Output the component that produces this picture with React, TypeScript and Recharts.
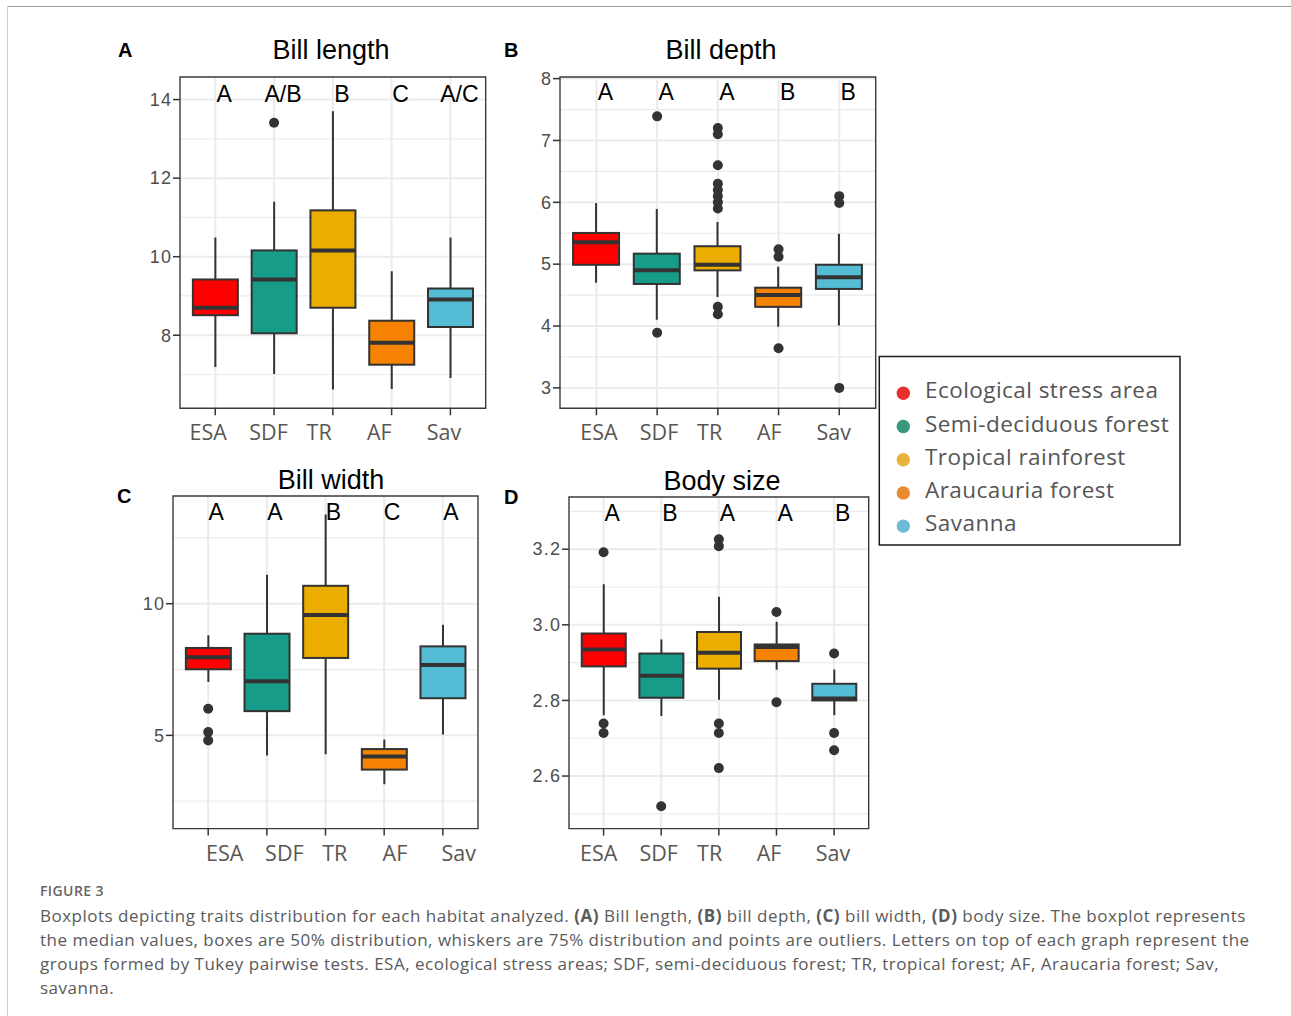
import React from 'react';
import { ComposedChart, Bar, Scatter, XAxis, YAxis, CartesianGrid, ReferenceArea } from 'recharts';

// ---------- data ----------
const categories = ['ESA', 'SDF', 'TR', 'AF', 'Sav'];
const habitats = ['Ecological stress area', 'Semi-deciduous forest', 'Tropical rainforest', 'Araucauria forest', 'Savanna'];
const boxFills = ['#FF0000', '#179C89', '#EBAD00', '#F58200', '#55BCD5'];
const legendDots = ['#E8312A', '#3A977F', '#E9B23B', '#E98A2E', '#6BBBD5'];

// [lower whisker, Q1, median, Q3, upper whisker]
const billLengthStats = [
  [7.19, 8.51, 8.7, 9.42, 10.49],
  [7.01, 8.05, 9.42, 10.16, 11.4],
  [6.62, 8.7, 10.16, 11.18, 13.7],
  [6.63, 7.25, 7.81, 8.37, 9.63],
  [6.91, 8.21, 8.91, 9.19, 10.49],
];
const billLengthOutliers = [[], [13.41], [], [], []];
const billLengthLetters = ['A', 'A/B', 'B', 'C', 'A/C'];

const billDepthStats = [
  [4.7, 4.99, 5.355, 5.505, 5.99],
  [4.1, 4.68, 4.9, 5.17, 5.89],
  [4.47, 4.9, 4.99, 5.29, 5.68],
  [3.99, 4.31, 4.5, 4.62, 4.96],
  [4.01, 4.6, 4.79, 4.99, 5.49],
];
const billDepthOutliers = [
  [],
  [7.39, 3.89],
  [7.2, 7.1, 6.6, 6.3, 6.2, 6.1, 6.0, 5.9, 4.31, 4.19],
  [5.24, 5.12, 3.64],
  [6.1, 5.99, 3.0],
];
const billDepthLetters = ['A', 'A', 'A', 'B', 'B'];

const billWidthStats = [
  [7.03, 7.51, 7.97, 8.32, 8.8],
  [4.24, 5.92, 7.06, 8.86, 11.1],
  [4.28, 7.94, 9.57, 10.68, 13.39],
  [3.14, 3.7, 4.2, 4.48, 4.84],
  [5.03, 6.41, 7.67, 8.38, 9.2],
];
const billWidthOutliers = [[6.01, 5.13, 4.81], [], [], [], []];
const billWidthLetters = ['A', 'A', 'B', 'C', 'A'];

const bodySizeStats = [
  [2.761, 2.89, 2.935, 2.977, 3.107],
  [2.759, 2.807, 2.865, 2.924, 2.961],
  [2.802, 2.884, 2.926, 2.981, 3.074],
  [2.881, 2.904, 2.941, 2.948, 3.008],
  [2.761, 2.8, 2.805, 2.844, 2.882],
];
const bodySizeOutliers = [
  [3.192, 2.739, 2.714],
  [2.52],
  [3.226, 3.208, 2.739, 2.714, 2.621],
  [3.034, 2.795],
  [2.924, 2.714, 2.668],
];
const bodySizeLetters = ['A', 'B', 'A', 'A', 'B'];

const captionLines = [
  [['Boxplots depicting traits distribution for each habitat analyzed. ', false], ['(A)', true], [' Bill length, ', false], ['(B)', true], [' bill depth, ', false], ['(C)', true], [' bill width, ', false], ['(D)', true], [' body size. The boxplot represents', false]],
  [['the median values, boxes are 50% distribution, whiskers are 75% distribution and points are outliers. Letters on top of each graph represent the', false]],
  [['groups formed by Tukey pairwise tests. ESA, ecological stress areas; SDF, semi-deciduous forest; TR, tropical forest; AF, Araucaria forest; Sav,', false]],
  [['savanna.', false]],
];

// ---------- helpers ----------
const buildBoxes = (stats: number[][]) =>
  stats.map((s, i) => ({ x: i + 1, lo: s[0], q1: s[1], med: s[2], q3: s[3], hi: s[4], fill: boxFills[i] }));
const buildOutliers = (outs: number[][]) =>
  outs.flatMap((arr, i) => arr.map((v) => ({ x: i + 1, y: v })));
const buildLetters = (letters: string[], y: number) => letters.map((l, i) => ({ x: i + 1, y, label: l }));

const SANS = '"Liberation Sans", Arial, Helvetica, sans-serif';
const HUM = '"Open Sans", Lato, sans-serif';

const panels = [
  {
    title: 'Bill length', tag: 'A',
    plot: { x: 180, y: 76.7, w: 305.7, h: 331.3 },
    domain: [6.14, 14.575], major: [8, 10, 12, 14], minor: [7, 9, 11, 13],
    boxes: buildBoxes(billLengthStats), outliers: buildOutliers(billLengthOutliers),
    letters: buildLetters(billLengthLetters, 14.13), letterDx: 9,
    labelDx: [-7, -5.5, -13.7, -12.4, -6.5], barSize: 45, fmt: (v: number) => String(v),
    titlePos: [331, 58.5], tagPos: [118, 57],
  },
  {
    title: 'Bill depth', tag: 'B',
    plot: { x: 560, y: 76.7, w: 315.7, h: 331.3 },
    domain: [2.67, 8.026], major: [3, 4, 5, 6, 7, 8], minor: [3.5, 4.5, 5.5, 6.5, 7.5],
    boxes: buildBoxes(billDepthStats), outliers: buildOutliers(billDepthOutliers),
    letters: buildLetters(billDepthLetters, 7.78), letterDx: 9,
    labelDx: [2.6, 1.9, -8.2, -9.3, -5.6], barSize: 46, fmt: (v: number) => String(v),
    titlePos: [721, 58.5], tagPos: [504, 57],
  },
  {
    title: 'Bill width', tag: 'C',
    plot: { x: 173.3, y: 495.7, w: 305, h: 332.6 },
    domain: [1.46, 14.09], major: [5, 10], minor: [2.5, 7.5, 12.5],
    boxes: buildBoxes(billWidthStats), outliers: buildOutliers(billWidthOutliers),
    letters: buildLetters(billWidthLetters, 13.47), letterDx: 8,
    labelDx: [16.5, 17.5, 9.2, 10.8, 15.9], barSize: 45, fmt: (v: number) => String(v),
    titlePos: [331, 489.3], tagPos: [117, 503],
  },
  {
    title: 'Body size', tag: 'D',
    plot: { x: 569.3, y: 496.7, w: 299.7, h: 331.6 },
    domain: [2.461, 3.338], major: [2.6, 2.8, 3.0, 3.2], minor: [2.5, 2.7, 2.9, 3.1, 3.3],
    boxes: buildBoxes(bodySizeStats), outliers: buildOutliers(bodySizeOutliers),
    letters: buildLetters(bodySizeLetters, 3.297), letterDx: 8.6,
    labelDx: [-4.9, -2.5, -9.2, -7.5, -1.1], barSize: 44, fmt: (v: number) => v.toFixed(1),
    titlePos: [722, 490], tagPos: [504, 503.5],
  },
];

// ---------- shapes ----------
const BoxShape = (p: any) => {
  const { x, y, width, height, payload } = p;
  if (payload == null || width == null) return null;
  const top = Math.min(y, y + height);
  const h = Math.abs(height);
  const k = h / (payload.q3 - payload.q1);
  const py = (v: number) => top + (payload.q3 - v) * k;
  const cx = x + width / 2;
  return (
    <g>
      <line x1={cx} x2={cx} y1={py(payload.hi)} y2={py(payload.q3)} stroke="#333" strokeWidth={2} />
      <line x1={cx} x2={cx} y1={py(payload.q1)} y2={py(payload.lo)} stroke="#333" strokeWidth={2} />
      <rect x={x} y={top} width={width} height={h} fill={payload.fill} stroke="#333" strokeWidth={2} />
      <line x1={x} x2={x + width} y1={py(payload.med)} y2={py(payload.med)} stroke="#333" strokeWidth={4} />
    </g>
  );
};

const OutlierShape = (p: any) => <circle cx={p.cx} cy={p.cy} r={5} fill="#333" />;

const makeLetterShape = (dx: number) => (p: any) => (
  <text x={p.cx + dx} y={p.cy + 8} textAnchor="middle" fontFamily={SANS} fontSize={23} fill="#000">
    {p.payload.label}
  </text>
);

const makeXTick = (offsets: number[]) => (p: any) => {
  const i = Math.round(p.payload.value) - 1;
  return (
    <text x={p.x + (offsets[i] || 0)} y={p.y + 23} textAnchor="middle" fontFamily={HUM} fontSize={21.5} fill="#5a5652">
      {categories[i]}
    </text>
  );
};

const makeYTick = (fmt: (v: number) => string) => (p: any) => (
  <text x={p.x + 1.2} y={p.y + 6.3} textAnchor="end" fontFamily={SANS} fontSize={18} letterSpacing={1.2} fill="#4d4d4d">
    {fmt(p.payload.value)}
  </text>
);

function Panel({ cfg }: { cfg: any }) {
  const ml = 60, mt = 10, mr = 10, mb = 55;
  const YW = 50, XH = 50;
  const W = cfg.plot.w + ml + mr;
  const H = cfg.plot.h + mt + mb;
  return (
    <div style={{ position: 'absolute', left: cfg.plot.x - ml, top: cfg.plot.y - mt }}>
      <ComposedChart
        width={W}
        height={H}
        data={cfg.boxes}
        margin={{ top: mt, right: mr, bottom: mb - XH, left: ml - YW }}
      >
        <CartesianGrid vertical={false} horizontalValues={cfg.minor} stroke="#ebebeb" strokeWidth={1.2} />
        <CartesianGrid horizontalValues={cfg.major} verticalValues={[1, 2, 3, 4, 5]} stroke="#ebebeb" strokeWidth={2} />
        <XAxis
          type="number"
          dataKey="x"
          domain={[0.4, 5.6]}
          ticks={[1, 2, 3, 4, 5]}
          interval={0}
          allowDataOverflow
          height={XH}
          axisLine={false}
          tickLine={{ stroke: '#333', strokeWidth: 1.5 }}
          tickSize={7}
          tickMargin={2}
          tick={makeXTick(cfg.labelDx)}
        />
        <YAxis
          type="number"
          domain={cfg.domain}
          ticks={cfg.major}
          interval={0}
          allowDataOverflow
          width={YW}
          axisLine={false}
          tickLine={{ stroke: '#333', strokeWidth: 1.5 }}
          tickSize={7}
          tickMargin={2}
          tick={makeYTick(cfg.fmt)}
        />
        <Bar
          dataKey={(d: any) => [d.q1, d.q3]}
          barSize={cfg.barSize}
          isAnimationActive={false}
          shape={BoxShape}
          activeBar={false}
        />
        <Scatter data={cfg.outliers} dataKey="y" isAnimationActive={false} shape={OutlierShape} />
        <Scatter data={cfg.letters} dataKey="y" isAnimationActive={false} shape={makeLetterShape(cfg.letterDx)} />
        <ReferenceArea
          x1={0.4}
          x2={5.6}
          y1={cfg.domain[0]}
          y2={cfg.domain[1]}
          fill="none"
          fillOpacity={0}
          stroke="#3a3a3a"
          strokeWidth={1.4}
          ifOverflow="visible"
        />
      </ComposedChart>
    </div>
  );
}

export default function App() {
  const legendX = 879.3, legendY = 356.5;
  return (
    <div style={{ position: 'absolute', left: 0, top: 0, width: 1291, height: 1016, overflow: 'hidden', background: '#fff' }}>
      {/* frame lines */}
      <div style={{ position: 'absolute', left: 7, top: 5.5, width: 1284, height: 1, background: '#9a9a9a' }} />
      <div style={{ position: 'absolute', left: 7, top: 6, width: 1.4, height: 1010, background: '#cfcfcf' }} />

      {panels.map((cfg) => (
        <Panel key={cfg.tag} cfg={cfg} />
      ))}

      <svg width={1291} height={870} style={{ position: 'absolute', left: 0, top: 0, pointerEvents: 'none' }}>
        {panels.map((cfg) => (
          <g key={cfg.tag}>
            <text x={cfg.titlePos[0]} y={cfg.titlePos[1]} textAnchor="middle" fontFamily={SANS} fontSize={27} fill="#000">
              {cfg.title}
            </text>
            <text x={cfg.tagPos[0]} y={cfg.tagPos[1]} fontFamily={SANS} fontWeight="bold" fontSize={20} fill="#000">
              {cfg.tag}
            </text>
          </g>
        ))}
        <rect x={legendX} y={legendY} width={300.7} height={188.5} fill="#fff" stroke="#1a1a1a" strokeWidth={1.5} />
        {habitats.map((h, i) => (
          <g key={h}>
            <circle cx={903.3} cy={393.3 + i * 33.2} r={6.7} fill={legendDots[i]} />
            <text x={925} y={398.3 + i * 33.2} fontFamily={HUM} fontSize={22.5} letterSpacing={0.45} fill="#555">
              {h}
            </text>
          </g>
        ))}
      </svg>

      <div style={{ position: 'absolute', left: 40, top: 883, fontFamily: HUM, fontSize: 14, fontWeight: 600, letterSpacing: 0.4, color: '#666', whiteSpace: 'nowrap', lineHeight: '16px' }}>
        FIGURE 3
      </div>
      {captionLines.map((segs, li) => (
        <div
          key={li}
          style={{ position: 'absolute', left: 40, top: 905 + li * 24, fontFamily: HUM, fontSize: 17, letterSpacing: 0.5, color: '#5a5a5a', whiteSpace: 'nowrap', lineHeight: '22px' }}
        >
          {segs.map((s: any, si: number) => (
            <span key={si} style={{ fontWeight: s[1] ? 700 : 400 }}>
              {s[0]}
            </span>
          ))}
        </div>
      ))}
    </div>
  );
}
